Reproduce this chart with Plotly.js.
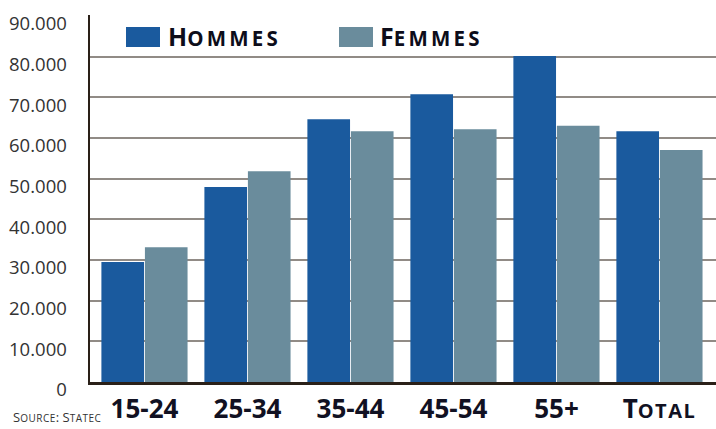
<!DOCTYPE html>
<html><head><meta charset="utf-8">
<script src="https://cdn.plot.ly/plotly-3.0.1.min.js"></script>
<style>html,body{margin:0;padding:0;background:#fff}#chart{width:716px;height:429px}</style>
</head><body><div id="chart"></div>
<script>
var categories = ["15-24", "25-34", "35-44", "45-54", "55+", "Total"];
var hommes = [29500, 47900, 64600, 70700, 80100, 61600];
var femmes = [33100, 51800, 61600, 62100, 63000, 57000];
var seriesNames = ["Hommes", "Femmes"];
var seriesColors = ["#1a5a9e", "#6a8c9c"];
var yTickVals = [0, 10000, 20000, 30000, 40000, 50000, 60000, 70000, 80000, 90000];
var yTickText = ["0", "10.000", "20.000", "30.000", "40.000", "50.000", "60.000", "70.000", "80.000", "90.000"];
var sourceText = "Source: Statec";

// small caps helper: lower-case letters become smaller capitals, everything else stays full size
function smallCaps(s, small, spacing) {
  var out = "", buf = "";
  function flush() { if (buf) { out += "<span style='font-size:" + small + "px;letter-spacing:" + spacing + "px'>" + buf.toUpperCase() + "</span>"; buf = ""; } }
  for (var i = 0; i < s.length; i++) {
    var c = s[i];
    if (c !== c.toUpperCase()) { buf += c; } else { flush(); out += c; }
  }
  flush();
  return out;
}

var traces = [
  {type: "bar", x: categories, y: hommes, name: seriesNames[0], marker: {color: seriesColors[0]}, showlegend: false, hoverinfo: "none"},
  {type: "bar", x: categories, y: femmes, name: seriesNames[1], marker: {color: seriesColors[1]}, showlegend: false, hoverinfo: "none"}
];

var xTickText = categories.map(function (c) { return smallCaps(c, 20, 1.5); });

var plotH = 429 - 15 - 47;
function py(pxFromTop) { return 1 - pxFromTop / plotH; }
var plotW = 716 - 90;
function px(pxFromLeft) { return pxFromLeft / plotW; }

var legendFont = {family: "Open Sans, sans-serif", size: 25, color: "#0d0d1a", weight: 700};
var layout = {
  width: 716, height: 429,
  margin: {l: 90, r: 0, t: 15, b: 47},
  paper_bgcolor: "#ffffff", plot_bgcolor: "#ffffff",
  barmode: "group", bargap: 0.155, bargroupgap: 0.02,
  showlegend: false,
  font: {family: "Open Sans, sans-serif"},
  xaxis: {
    type: "category", range: [-0.529, 5.549],
    tickvals: categories, ticktext: xTickText,
    showgrid: false, showline: true, linecolor: "#2a2018", linewidth: 2.5,
    ticks: "", tickfont: {family: "Open Sans, sans-serif", size: 26, color: "#111122", weight: 700},
    ticklabelstandoff: 2
  },
  yaxis: {
    range: [0, 90200], tickvals: yTickVals, ticktext: yTickText,
    showgrid: true, gridcolor: "#918b86", gridwidth: 2,
    showline: true, linecolor: "#2a2018", linewidth: 2.5, zeroline: false,
    ticks: "", tickfont: {family: "Open Sans, sans-serif", size: 18.5, color: "#333333"},
    ticklabelshift: 8, ticklabelstandoff: 17
  },
  shapes: [
    {type: "rect", xref: "paper", yref: "paper", x0: px(36), x1: px(70), y0: py(32), y1: py(12), fillcolor: seriesColors[0], line: {width: 0}},
    {type: "rect", xref: "paper", yref: "paper", x0: px(249), x1: px(283), y0: py(32), y1: py(12), fillcolor: seriesColors[1], line: {width: 0}}
  ],
  annotations: [
    {xref: "paper", yref: "paper", x: px(76), y: py(21), xanchor: "left", yanchor: "middle", text: smallCaps(seriesNames[0], 20.5, 3.2), showarrow: false, font: legendFont},
    {xref: "paper", yref: "paper", x: px(288), y: py(21), xanchor: "left", yanchor: "middle", text: smallCaps(seriesNames[1], 20.5, 3.2), showarrow: false, font: legendFont},
    {xref: "paper", yref: "paper", x: px(-79), y: py(413), xanchor: "left", yanchor: "bottom", text: smallCaps(sourceText, 10, 0.5), showarrow: false, font: {family: "Open Sans, sans-serif", size: 13, color: "#333333"}}
  ]
};
Plotly.newPlot("chart", traces, layout, {staticPlot: true, displayModeBar: false});
</script></body></html>
